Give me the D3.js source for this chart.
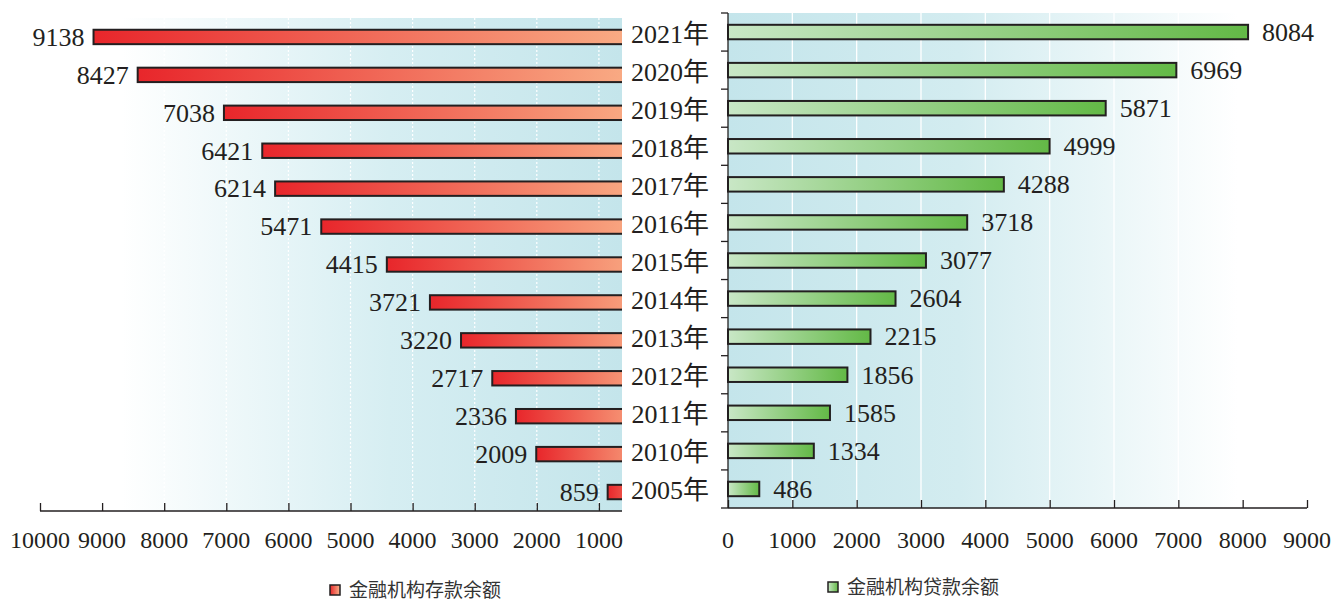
<!DOCTYPE html>
<html>
<head>
<meta charset="utf-8">
<script src="https://cdn.jsdelivr.net/npm/d3@7"></script>
<style>
  body { margin: 0; background: #fff; }
  svg text { fill: #231f20; }
  .serif { font-family: "Liberation Serif", "Times New Roman", "DejaVu Serif", "Noto Sans CJK SC", serif; }
  .sans { font-family: "Noto Sans CJK SC", "Noto Sans", sans-serif; }
</style>
</head>
<body>
<div id="chart"></div>
<script>
// dati
const anni = ["2021年", "2020年", "2019年", "2018年", "2017年", "2016年", "2015年",
              "2014年", "2013年", "2012年", "2011年", "2010年", "2005年"];
const depositi = [9138, 8427, 7038, 6421, 6214, 5471, 4415, 3721, 3220, 2717, 2336, 2009, 859];
const prestiti = [8084, 6969, 5871, 4999, 4288, 3718, 3077, 2604, 2215, 1856, 1585, 1334, 486];
const tickSinistra = [10000, 9000, 8000, 7000, 6000, 5000, 4000, 3000, 2000, 1000];
const tickDestra = [0, 1000, 2000, 3000, 4000, 5000, 6000, 7000, 8000, 9000];
const legendaSinistra = "金融机构存款余额";
const legendaDestra = "金融机构贷款余额";

const W = 1332, H = 602;

const svg = d3.select("#chart").append("svg")
  .attr("width", W).attr("height", H);

const defs = svg.append("defs");

function grad(id, stops) {
  const g = defs.append("linearGradient").attr("id", id)
    .attr("x1", "0%").attr("x2", "100%").attr("y1", "0%").attr("y2", "0%");
  stops.forEach(s => g.append("stop").attr("offset", s[0]).attr("stop-color", s[1]));
}
grad("bgL", [["0%", "#ffffff"], ["14%", "#ffffff"], ["60%", "#d6eef2"], ["100%", "#c4e5eb"]]);
grad("bgR", [["0%", "#c4e5eb"], ["40%", "#d3ecf0"], ["88%", "#ffffff"], ["100%", "#ffffff"]]);
grad("barL", [["0%", "#e8262b"], ["100%", "#fab48a"]]);
grad("barR", [["0%", "#c9e7c6"], ["100%", "#63b946"]]);

// --- pannello sinistro ---
const L = {left: 40, right: 622, top: 18, bottom: 511};
const xL = d3.scaleLinear().domain([0, 10000]).range([661, 40]);
const yL = d3.scaleBand().domain(anni).range([L.top, L.bottom]).paddingInner(0.62).paddingOuter(0.31);

defs.append("clipPath").attr("id", "clipL").append("rect")
  .attr("x", L.left).attr("y", 0).attr("width", L.right - L.left).attr("height", H);

svg.append("rect").attr("x", L.left).attr("y", L.top)
  .attr("width", L.right - L.left).attr("height", L.bottom - L.top)
  .attr("fill", "url(#bgL)");

svg.append("g").selectAll("line").data(tickSinistra.filter(d => d < 10000)).join("line")
  .attr("x1", d => xL(d)).attr("x2", d => xL(d))
  .attr("y1", L.top).attr("y2", L.bottom)
  .attr("stroke", "#fff").attr("stroke-width", 1.2).attr("stroke-dasharray", "2,2");

svg.append("g").attr("clip-path", "url(#clipL)")
  .selectAll("rect").data(depositi).join("rect")
  .attr("x", d => xL(d)).attr("width", d => xL(0) - xL(d))
  .attr("y", (d, i) => yL(anni[i])).attr("height", yL.bandwidth())
  .attr("fill", "url(#barL)").attr("stroke", "#231f20").attr("stroke-width", 2);

svg.append("g").selectAll("text").data(depositi).join("text")
  .attr("class", "serif")
  .attr("x", d => xL(d) - 9).attr("y", (d, i) => yL(anni[i]) + yL.bandwidth() / 2)
  .attr("dy", "0.34em").attr("text-anchor", "end")
  .style("font-size", "26px")
  .text(d => d);

const asseL = svg.append("g").attr("transform", `translate(0,${L.bottom})`)
  .call(d3.axisBottom(xL).tickValues(tickSinistra).tickSize(-8).tickFormat(""));
asseL.select(".domain").attr("d", `M${L.left},0H${L.right}`);
asseL.selectAll("path, line").attr("stroke", "#231f20").attr("stroke-width", 1.3);

svg.append("g").selectAll("text").data(tickSinistra).join("text")
  .attr("class", "serif")
  .attr("x", d => xL(d)).attr("y", 548).attr("text-anchor", "middle")
  .style("font-size", "24px")
  .text(d => d);

// --- pannello destro ---
const R = {left: 728, right: 1307, top: 13, bottom: 508};
const xR = d3.scaleLinear().domain([0, 9000]).range([R.left, R.right]);
const yR = d3.scaleBand().domain(anni).range([R.top, R.bottom]).paddingInner(0.62).paddingOuter(0.31);

svg.append("rect").attr("x", R.left).attr("y", R.top)
  .attr("width", R.right - R.left).attr("height", R.bottom - R.top)
  .attr("fill", "url(#bgR)");

svg.append("g").selectAll("line").data(tickDestra.filter(d => d > 0 && d < 9000)).join("line")
  .attr("x1", d => xR(d)).attr("x2", d => xR(d))
  .attr("y1", R.top).attr("y2", R.bottom)
  .attr("stroke", "#fff").attr("stroke-width", 1.3);

svg.append("g").selectAll("rect").data(prestiti).join("rect")
  .attr("x", xR(0)).attr("width", d => xR(d) - xR(0))
  .attr("y", (d, i) => yR(anni[i])).attr("height", yR.bandwidth())
  .attr("fill", "url(#barR)").attr("stroke", "#231f20").attr("stroke-width", 2);

svg.append("g").selectAll("text").data(prestiti).join("text")
  .attr("class", "serif")
  .attr("x", d => xR(d) + 14).attr("y", (d, i) => yR(anni[i]) + yR.bandwidth() / 2)
  .attr("dy", "0.34em")
  .style("font-size", "26px")
  .text(d => d);

const asseR = svg.append("g").attr("transform", `translate(0,${R.bottom})`)
  .call(d3.axisBottom(xR).tickValues(tickDestra).tickSize(-8).tickFormat(""));
asseR.select(".domain").attr("d", `M${R.left},0H${R.right}`);
asseR.selectAll("path, line").attr("stroke", "#231f20").attr("stroke-width", 1.3);

// asse verticale con tacche ai bordi delle categorie
const bordi = d3.range(anni.length + 1).map(i => R.top + i * yR.step());
const asseY = svg.append("g");
asseY.append("line").attr("x1", R.left).attr("x2", R.left)
  .attr("y1", R.top).attr("y2", R.bottom)
  .attr("stroke", "#231f20").attr("stroke-width", 1.3);
asseY.selectAll("line.t").data(bordi).join("line").attr("class", "t")
  .attr("x1", R.left - 7).attr("x2", R.left).attr("y1", d => d).attr("y2", d => d)
  .attr("stroke", "#231f20").attr("stroke-width", 1.3);

svg.append("g").selectAll("text").data(tickDestra).join("text")
  .attr("class", "serif")
  .attr("x", d => xR(d)).attr("y", 548).attr("text-anchor", "middle")
  .style("font-size", "24px")
  .text(d => d);

// etichette degli anni al centro
svg.append("g").selectAll("text").data(anni).join("text")
  .attr("class", "serif")
  .attr("x", 670).attr("y", d => (yL(d) + yR(d)) / 2 + yL.bandwidth() / 2)
  .attr("dy", "0.34em").attr("text-anchor", "middle")
  .style("font-size", "26px")
  .text(d => d);

// --- legende ---
function legenda(x, y, fill, testo) {
  const g = svg.append("g").attr("transform", `translate(${x},${y})`);
  g.append("rect").attr("x", 0).attr("y", -5).attr("width", 10).attr("height", 10)
    .attr("fill", fill).attr("stroke", "#231f20").attr("stroke-width", 1.5);
  g.append("text").attr("class", "sans").attr("x", 19).attr("dy", "0.35em")
    .style("font-size", "19px")
    .style("fill", "#333").text(testo);
}
legenda(330, 590, "url(#barL)", legendaSinistra);
legenda(828, 587, "url(#barR)", legendaDestra);
</script>
</body>
</html>
